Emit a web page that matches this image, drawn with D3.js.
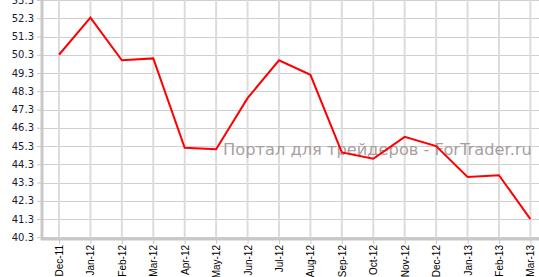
<!DOCTYPE html>
<html>
<head>
<meta charset="utf-8">
<script src="https://cdn.jsdelivr.net/npm/d3@7"></script>
<style>
  body { margin: 0; background: #fff; }
  svg { display: block; }
</style>
</head>
<body>
<script>
var width = 539, height = 277;

// data
var months = ["Dec-11", "Jan-12", "Feb-12", "Mar-12", "Apr-12", "May-12", "Jun-12", "Jul-12",
              "Aug-12", "Sep-12", "Oct-12", "Nov-12", "Dec-12", "Jan-13", "Feb-13", "Mar-13"];
var values = [50.3, 52.33, 50.0, 50.1, 45.2, 45.12, 47.92, 50.0,
              49.2, 44.95, 44.6, 45.8, 45.3, 43.6, 43.7, 41.3];
var yTicks = [40.3, 41.3, 42.3, 43.3, 44.3, 45.3, 46.3, 47.3, 48.3, 49.3, 50.3, 51.3, 52.3, 53.3];
var watermark = "Портал для трейдеров - ForTrader.ru";

var svg = d3.select("body").append("svg")
    .attr("width", width)
    .attr("height", height);

var x = d3.scalePoint().domain(months).range([59, 530.4]);
var y = d3.scaleLinear().domain([40.3, 53.3]).range([237.3, 0]);

// horizontal grid
svg.append("g").selectAll("line").data(yTicks).enter().append("line")
    .attr("x1", 42).attr("x2", width)
    .attr("y1", function(d) { return Math.round(y(d)) + 0.5; })
    .attr("y2", function(d) { return Math.round(y(d)) + 0.5; })
    .style("stroke", "#cfcfcf").style("stroke-width", 1);

// vertical grid
svg.append("g").selectAll("line").data(months).enter().append("line")
    .attr("x1", function(d) { return x(d); }).attr("x2", function(d) { return x(d); })
    .attr("y1", 0).attr("y2", 238)
    .style("stroke", "#dcdcdc").style("stroke-width", 2);

// watermark
var wm = svg.append("text")
    .attr("x", 223).attr("y", 155)
    .style("font-family", "DejaVu Sans, Verdana, sans-serif")
    .style("font-size", "16px")
    .style("fill", "#a89f9f")
    .text(watermark);
var wl = wm.node().getComputedTextLength();
wm.style("font-size", (16 * 309 / wl) + "px");

// y axis
var yAxis = svg.append("g")
    .attr("transform", "translate(42,0)")
    .call(d3.axisLeft(y).tickValues(yTicks).tickSize(5).tickPadding(3).tickFormat(d3.format(".1f")));
yAxis.select(".domain").remove();
yAxis.selectAll(".tick line").style("stroke", "#c8c8c8");
yAxis.selectAll("text")
    .style("font-family", "DejaVu Sans, Verdana, sans-serif")
    .style("font-size", "10px")
    .style("fill", "#1a1a33");

// x axis
var xAxis = svg.append("g")
    .attr("transform", "translate(0,239)")
    .call(d3.axisBottom(x).tickSize(5).tickPadding(3));
xAxis.select(".domain").remove();
xAxis.selectAll(".tick line").style("stroke", "#c8c8c8");
xAxis.selectAll("text")
    .style("font-family", "Liberation Sans, Arial, sans-serif")
    .style("font-size", "10px")
    .style("fill", "#000")
    .attr("text-anchor", "end")
    .attr("transform", "rotate(-90)")
    .attr("x", -6).attr("y", 0).attr("dy", "0.35em");

// axis lines
svg.append("line").attr("x1", 42).attr("x2", 42).attr("y1", 0).attr("y2", 240)
    .style("stroke", "#c8c8c8").style("stroke-width", 3);
svg.append("line").attr("x1", 41).attr("x2", width).attr("y1", 239).attr("y2", 239)
    .style("stroke", "#c8c8c8").style("stroke-width", 3);

// series line
var line = d3.line()
    .x(function(d, i) { return x(months[i]); })
    .y(function(d) { return y(d); });

svg.append("path")
    .datum(values)
    .attr("d", line)
    .style("fill", "none")
    .style("stroke", "#ff0000")
    .style("stroke-width", 2)
    .style("stroke-linejoin", "miter");
</script>
</body>
</html>
